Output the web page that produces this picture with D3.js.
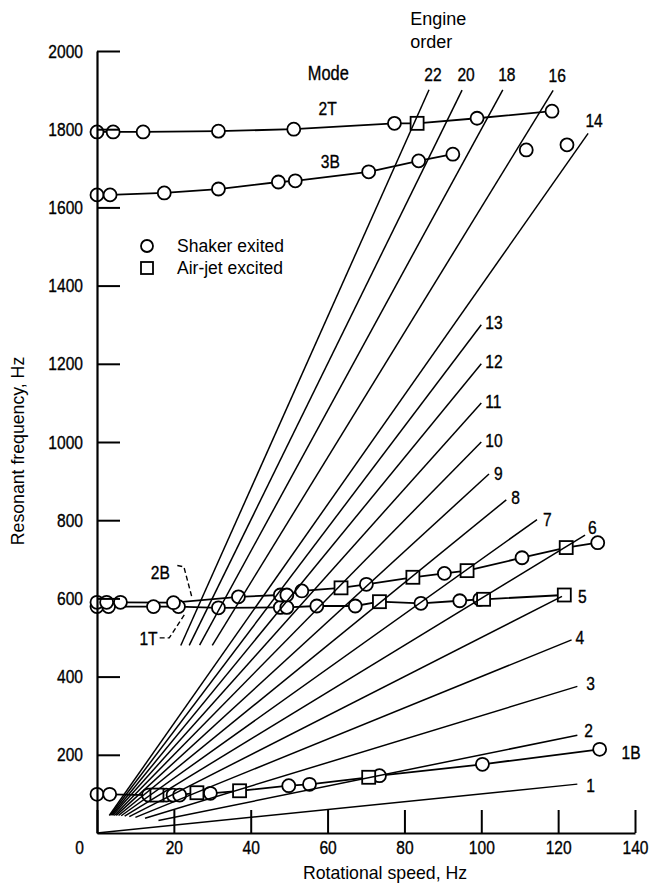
<!DOCTYPE html>
<html>
<head>
<meta charset="utf-8">
<script src="https://cdn.jsdelivr.net/npm/d3@7"></script>
<style>
  body { margin: 0; background: #fff; }
  .narrow { font-family: "Liberation Sans Narrow", "Liberation Sans", Arial, sans-serif; stroke: #000; stroke-width: 0.35px; }
  .reg { font-family: "Liberation Sans", Arial, sans-serif; }
</style>
</head>
<body>
<div id="chart"></div>
<script>
// axis ticks
const speedTicks = [0, 20, 40, 60, 80, 100, 120, 140];
const freqTicks = [200, 400, 600, 800, 1000, 1200, 1400, 1600, 1800, 2000];

// engine order lines (freq = order * speed), drawn between a start and end speed
const engineOrders    = [1, 2, 3, 4, 5, 6, 7, 8, 9, 10, 11, 12, 13, 14, 16, 18, 20, 22];
const orderStartSpeed = [0, 16, 12.5, 10, 8.4, 7.2, 6.3, 5.6, 5, 4.5, 4.1, 3.8, 3.5, 3.2, 30, 26.7, 24, 21.8];
const orderEndSpeed   = [125, 125, 125, 123.5, 121, 127, 114.5, 106.5, 102, 100, 100, 100, 100, 127.8, 118.7, 105.6, 95, 86.4];

// measured modes: [rotational speed Hz, resonant freq Hz, S = shaker / A = air-jet]
const mode1B = [
  [0, 99, "S"], [3.3, 99, "S"], [13.4, 97, "S"], [15.6, 97, "A"], [18, 97, "S"], [19.8, 97, "S"],
  [21.5, 97, "S"], [26, 103, "A"], [29.5, 101.5, "S"], [37.1, 108, "A"], [49.9, 121, "S"],
  [55.3, 124.5, "S"], [70.7, 142.5, "A"], [73.5, 146.5, "S"], [100.3, 175.7, "S"], [130.8, 214, "S"]
];
const mode1T = [
  [0, 579, "S"], [3, 579, "S"], [14.7, 579, "S"], [21.2, 579, "S"], [31.6, 576, "S"], [47.7, 577, "S"],
  [49.4, 577, "S"], [57.2, 580.6, "S"], [67.2, 580.6, "S"], [73.5, 591.6, "A"], [84.3, 587.5, "S"],
  [94.4, 594, "S"], [99.6, 597.7, "S"], [100.6, 597.7, "A"], [121.6, 608.7, "A"]
];
const mode2B = [
  [0, 590, "S"], [2.5, 590, "S"], [6.1, 590, "S"], [19.9, 589, "S"], [36.8, 604, "S"], [47.7, 608.7, "S"],
  [49.4, 608.7, "S"], [53.3, 619, "S"], [63.5, 627, "A"], [70.1, 636, "S"], [82.2, 654, "A"],
  [90.4, 664, "S"], [96.3, 671, "A"], [110.6, 704, "S"], [122.1, 730, "A"], [130.3, 742.5, "S"]
];
const mode3B = [
  [0, 1632, "S"], [3.4, 1632, "S"], [17.5, 1637, "S"], [31.6, 1647, "S"], [47.2, 1665, "S"],
  [51.6, 1668, "S"], [70.7, 1691, "S"], [83.7, 1719, "S"], [92.6, 1736, "S"]
];
const mode3BLoose = [[111.7, 1747, "S"], [122.3, 1760, "S"]];
const mode2T = [
  [0, 1793, "S"], [4.2, 1793, "S"], [12, 1793, "S"], [31.6, 1795, "S"], [51.2, 1800, "S"],
  [77.4, 1815, "S"], [83.3, 1815, "A"], [98.9, 1828, "S"], [118.4, 1846, "S"]
];

// mode labels (text, speed, freq)
const modeLabels = [["2T", 60, 1854], ["3B", 60.7, 1719], ["1B", 139, 205], ["2B", 16.5, 667], ["1T", 13.4, 499]];
const leader2B = [[20.9, 684], [22.6, 681], [24.8, 599]];
const leader1T = [[16.3, 499], [18.8, 499], [23, 562]];

const width = 649, height = 885;
const margin = { top: 51, right: 14, bottom: 52, left: 97 };
const innerWidth = width - margin.left - margin.right;
const innerHeight = height - margin.top - margin.bottom;

const svg = d3.select("#chart").append("svg")
  .attr("width", width).attr("height", height)
  .append("g")
  .attr("transform", `translate(${margin.left}, ${margin.top})`);

const x = d3.scaleLinear().domain([0, 140]).range([0, innerWidth]);
const y = d3.scaleLinear().domain([0, 2000]).range([innerHeight, 0]);

const line = d3.line().x(d => x(d[0])).y(d => y(d[1]));

// mode curves
const allModes = [mode1B, mode1T, mode2B, mode3B, mode2T];
svg.selectAll(".mode-line").data(allModes).enter().append("path")
  .attr("class", "mode-line")
  .attr("fill", "none").attr("stroke", "#000").attr("stroke-width", 1.8)
  .attr("d", line);

// markers
const points = allModes.concat([mode3BLoose]).flat();
svg.selectAll(".shaker").data(points.filter(d => d[2] === "S")).enter().append("circle")
  .attr("class", "shaker")
  .attr("cx", d => x(d[0])).attr("cy", d => y(d[1])).attr("r", 6.5)
  .attr("fill", "#fff").attr("stroke", "#000").attr("stroke-width", 1.8);
svg.selectAll(".airjet").data(points.filter(d => d[2] === "A")).enter().append("rect")
  .attr("class", "airjet")
  .attr("x", d => x(d[0]) - 6.5).attr("y", d => y(d[1]) - 6.5)
  .attr("width", 13).attr("height", 13)
  .attr("fill", "#fff").attr("stroke", "#000").attr("stroke-width", 1.8);

// engine order lines
const orderLines = engineOrders.map((eo, i) => ({
  eo,
  pts: [[orderStartSpeed[i], eo * orderStartSpeed[i]], [orderEndSpeed[i], eo * orderEndSpeed[i]]]
}));
svg.selectAll(".eo-line").data(orderLines).enter().append("path")
  .attr("class", "eo-line")
  .attr("fill", "none").attr("stroke", "#000").attr("stroke-width", 1.5)
  .attr("d", d => line(d.pts));

// engine order labels
const nudge = {
  1: [9, 1], 2: [7, -5], 3: [9, -3], 4: [4, -2], 5: [16, 0], 6: [3, -8], 7: [6, 0], 8: [5, -3],
  9: [5, -1], 10: [4, -2], 11: [4, -2], 12: [4, -2], 13: [4, -2]
};
svg.selectAll(".eo-label").data(orderLines).enter().append("text")
  .attr("class", "eo-label narrow")
  .attr("font-size", 19)
  .attr("text-anchor", d => d.eo >= 14 ? "middle" : "start")
  .attr("x", d => x(d.pts[1][0]) + (d.eo >= 14 ? (d.eo === 14 ? 6 : 4) : nudge[d.eo][0]))
  .attr("y", d => y(d.pts[1][1]) + (d.eo >= 14 ? (d.eo === 14 ? -13 : -15.5) : nudge[d.eo][1]))
  .attr("dy", "0.35em")
  .text(d => d.eo);

// mode labels and leaders
svg.selectAll(".mode-label").data(modeLabels).enter().append("text")
  .attr("class", "mode-label narrow")
  .attr("font-size", 19).attr("text-anchor", "middle")
  .attr("x", d => x(d[1])).attr("y", d => y(d[2])).attr("dy", "0.35em")
  .text(d => d[0]);

svg.selectAll(".leader").data([leader2B, leader1T]).enter().append("path")
  .attr("fill", "none").attr("stroke", "#000").attr("stroke-width", 1.4)
  .attr("stroke-dasharray", "5,3")
  .attr("d", line);

svg.append("text").attr("class", "narrow").attr("font-size", 20).attr("text-anchor", "middle")
  .attr("x", x(60.2)).attr("y", y(1944)).attr("dy", "0.35em").text("Mode");
svg.append("text").attr("class", "reg").attr("font-size", 18)
  .attr("x", x(81.5)).attr("y", y(2066)).text("Engine");
svg.append("text").attr("class", "reg").attr("font-size", 18)
  .attr("x", x(81.5)).attr("y", y(2007)).text("order");

// legend
const legend = svg.append("g").attr("transform", "translate(50, 195)");
legend.append("circle").attr("cx", 0).attr("cy", 0).attr("r", 6)
  .attr("fill", "#fff").attr("stroke", "#000").attr("stroke-width", 1.8);
legend.append("rect").attr("x", -6).attr("y", 16).attr("width", 12).attr("height", 12)
  .attr("fill", "#fff").attr("stroke", "#000").attr("stroke-width", 1.8);
legend.append("text").attr("class", "reg").attr("font-size", 17.5)
  .attr("x", 30).attr("y", 0).attr("dy", "0.35em").text("Shaker exited");
legend.append("text").attr("class", "reg").attr("font-size", 17.5)
  .attr("x", 30).attr("y", 22).attr("dy", "0.35em").text("Air-jet excited");

// axes
const xAxis = svg.append("g")
  .attr("transform", `translate(0, ${innerHeight})`)
  .call(d3.axisBottom(x).tickValues(speedTicks).tickFormat(d3.format("d"))
    .tickSize(-23).tickSizeOuter(0).tickPadding(8));
const yAxis = svg.append("g")
  .call(d3.axisLeft(y).tickValues(freqTicks).tickFormat(d3.format("d"))
    .tickSize(-23).tickSizeOuter(0).tickPadding(14));

[xAxis, yAxis].forEach(a => {
  a.select(".domain").attr("stroke-width", 2.2);
  a.selectAll(".tick line").attr("stroke-width", 2);
  a.selectAll(".tick text").attr("class", "narrow").attr("font-size", 19).attr("fill", "#000");
});
xAxis.selectAll(".tick text").filter(d => d === 0).attr("dx", -18);

svg.append("text").attr("class", "reg").attr("font-size", 17.7).attr("text-anchor", "middle")
  .attr("x", innerWidth / 2 + 19).attr("y", innerHeight + 46)
  .text("Rotational speed, Hz");
svg.append("text").attr("class", "reg").attr("font-size", 17.7).attr("text-anchor", "middle")
  .attr("transform", `translate(-79, ${innerHeight / 2 + 9}) rotate(-90)`)
  .attr("dy", "0.35em")
  .text("Resonant frequency, Hz");

// squeeze the condensed labels to narrow-face proportions
d3.selectAll("text.narrow").each(function () {
  const len = this.getComputedTextLength();
  d3.select(this).attr("textLength", len * 0.82).attr("lengthAdjust", "spacingAndGlyphs");
});
</script>
</body>
</html>
